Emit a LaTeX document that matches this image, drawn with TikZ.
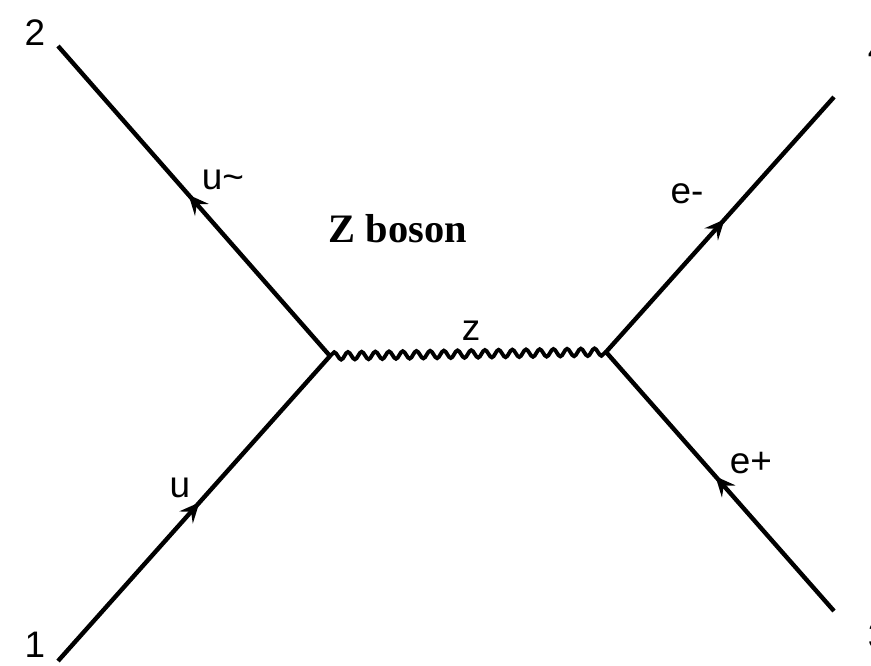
\documentclass[tikz,border=0pt]{standalone}
\usepackage{fontspec}
\setmainfont{Liberation Serif}
\newfontfamily\lblfont{Liberation Sans}
\usetikzlibrary{arrows.meta, decorations.pathmorphing, decorations.markings}
\tikzset{
  fermion/.style ={line width=2.5pt, postaction={decorate},
                   decoration={markings, mark=at position 0.52 with {\arrow{Stealth[length=4mm, width=3.6mm, inset=1.5mm]}}}},
  boson/.style   ={line width=2.2pt, decorate,
                   decoration={snake, amplitude=0.075cm, segment length=0.274cm}},
  lbl/.style     ={font=\lblfont\fontsize{21}{24}\selectfont, inner sep=0pt},
  ttl/.style     ={font=\bfseries\fontsize{23}{26}\selectfont, inner sep=0pt},
}

\begin{document}
\begin{tikzpicture}
  \clip (0,0) rectangle (17.42,-13.3);
  % vertices and external legs
  \coordinate (v1) at (6.60,-7.12);
  \coordinate (v2) at (12.12,-7.04);
  \coordinate (p1) at (1.16,-13.22);
  \coordinate (p2) at (1.16,-0.92);
  \coordinate (p3) at (16.68,-12.22);
  \coordinate (p4) at (16.68,-1.94);
  \draw[fermion] (p1) -- (v1);
  \draw[fermion] (v1) -- (p2);
  \draw[fermion] (v2) -- (p4);
  \draw[fermion] (p3) -- (v2);
  \draw[boson] (v1) -- (v2);
  % leg numbers (3 and 4 run off the edge)
  \node[lbl] (n1) at (0.70,-12.90) {1};
  \node[lbl] (n2) at (0.70,-0.66) {2};
  \node[lbl] (n3) at (17.56,-12.72) {3};
  \node[lbl] (n4) at (17.56,-1.00) {4};
  % particle labels
  \node[lbl] (lu)  at (3.60,-9.76) {u};
  \node[lbl] (lub) at (4.46,-3.60) {u\textasciitilde};
  \node[lbl] (lem) at (13.74,-3.88) {e-};
  \node[lbl] (lep) at (15.02,-9.26) {e+};
  \node[lbl] (lz)  at (9.42,-6.62) {z};
  \node[ttl] (ttl) at (7.96,-4.58) {Z boson};
\end{tikzpicture}
\end{document}
